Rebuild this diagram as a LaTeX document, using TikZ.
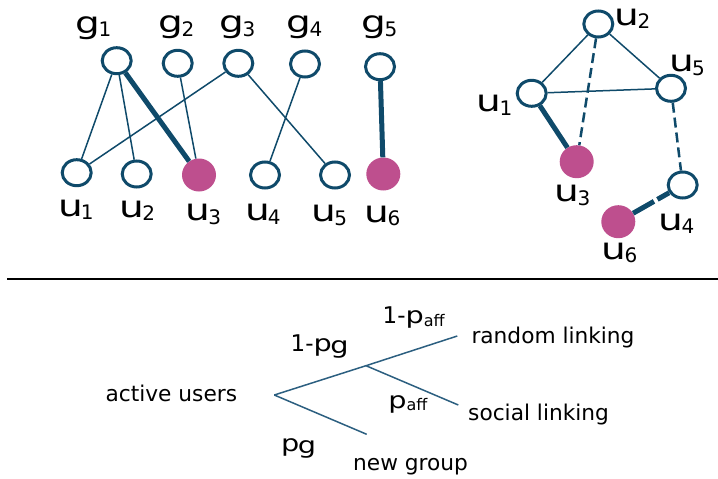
\documentclass[tikz,border=0pt]{standalone}
\usepackage{graphicx}
\usepackage{fontspec}
\setmainfont{DejaVu Sans}
\usetikzlibrary{shapes.geometric}
\definecolor{netblue}{HTML}{0F4A6A}
\definecolor{netmag}{HTML}{BE4F8E}
\definecolor{treeblue}{HTML}{2C5F80}
\newcommand\glab[2]{\scalebox{1.3}[1]{\fontsize{30}{30}\selectfont #1}\kern-2pt\raisebox{-3.5pt}{\fontsize{20}{20}\selectfont #2}}
\newcommand\pwide[1]{\scalebox{1.25}[1]{\fontsize{23}{23}\selectfont #1}}
\newcommand\pmain[1]{\fontsize{23}{23}\selectfont #1}
\begin{document}
\begin{tikzpicture}[x=1pt,y=-1pt,
  vnode/.style={ellipse, draw=netblue, line width=3pt, fill=white, minimum width=29pt, minimum height=26pt, inner sep=0pt},
  mnode/.style={ellipse, fill=netmag, minimum width=34pt, minimum height=33pt, inner sep=0pt},
  thinedge/.style={draw=netblue, line width=1.5pt},
  thickedge/.style={draw=netblue, line width=5pt},
  dashedge/.style={draw=netblue, line width=2.5pt, dash pattern=on 10pt off 5pt},
  thickdash/.style={draw=netblue, line width=5pt, dash pattern=on 24pt off 4pt},
  lab/.style={anchor=base, inner sep=0pt, text=black},
  tree/.style={draw=treeblue, line width=1.5pt},
  ttext/.style={anchor=base west, inner sep=0pt, font=\fontsize{21.7}{22}\selectfont}]
\useasboundingbox (0,0) rectangle (718,479);

% ---------- left bipartite graph ----------
\node[vnode] (g1) at (116.7,60.7) {};
\node[vnode] (g2) at (177.7,63.3) {};
\node[vnode] (g3) at (238.3,63.3) {};
\node[vnode] (g4) at (305,64) {};
\node[vnode] (g5) at (380,66.7) {};
\node[vnode] (a1) at (76.7,172.7) {};
\node[vnode] (a2) at (136.7,174) {};
\node[mnode] (a3) at (199,175) {};
\node[vnode] (a4) at (265,175) {};
\node[vnode] (a5) at (335,175) {};
\node[mnode] (a6) at (383.3,174) {};

\draw[thinedge] (g1) -- (a1);
\draw[thinedge] (g1) -- (a2);
\draw[thickedge] (g1) -- (a3);
\draw[thinedge] (g2) -- (a3);
\draw[thinedge] (g3) -- (a1);
\draw[thinedge] (g3) -- (a5);
\draw[thinedge] (g4) -- (a4);
\draw[thickedge] (g5) -- (a6);

\node[lab] (lg1) at (93.5,33) {\glab{g}{1}};
\node[lab] (lg2) at (176.5,32.5) {\glab{g}{2}};
\node[lab] (lg3) at (237.5,32.5) {\glab{g}{3}};
\node[lab] (lg4) at (304.5,32.5) {\glab{g}{4}};
\node[lab] (lg5) at (379.5,32.5) {\glab{g}{5}};
\node[lab] (la1) at (76,216) {\glab{u}{1}};
\node[lab] (la2) at (137.5,217) {\glab{u}{2}};
\node[lab] (la3) at (203.5,220.5) {\glab{u}{3}};
\node[lab] (la4) at (263,220.5) {\glab{u}{4}};
\node[lab] (la5) at (329.5,221.7) {\glab{u}{5}};
\node[lab] (la6) at (382.5,222) {\glab{u}{6}};

% ---------- right social graph ----------
\node[vnode] (b2) at (598.3,24) {};
\node[vnode] (b1) at (531.7,93.3) {};
\node[vnode] (b5) at (671,88.3) {};
\node[mnode] (b3) at (576.7,161.7) {};
\node[vnode] (b4) at (682.7,185) {};
\node[mnode] (b6) at (618.3,221.7) {};

\draw[thinedge] (b1) -- (b2);
\draw[thinedge] (b2) -- (b5);
\draw[thinedge] (b1) -- (b5);
\draw[dashedge] (b2) -- (b3);
\draw[thickedge] (b1) -- (b3);
\draw[dashedge] (b5) -- (b4);
\draw[thickdash] (b6) -- (b4);

\node[lab] (lb2) at (632.5,25) {\glab{u}{2}};
\node[lab] (lb5) at (687,71.7) {\glab{u}{5}};
\node[lab] (lb1) at (494.5,111.7) {\glab{u}{1}};
\node[lab] (lb3) at (572.5,201.7) {\glab{u}{3}};
\node[lab] (lb4) at (676.5,230) {\glab{u}{4}};
\node[lab] (lb6) at (619.5,259) {\glab{u}{6}};

% ---------- separator ----------
\coordinate (rl) at (7,279);
\coordinate (rr) at (718,279);
\draw[line width=2.7pt] (rl) -- (rr);

% ---------- decision tree ----------
\coordinate (root) at (274.3,395);
\coordinate (branch) at (366,365.7);
\coordinate (rnd) at (457.3,336);
\coordinate (soc) at (458.3,405);
\coordinate (ng) at (366.7,434.3);
\draw[tree] (root) -- (branch) -- (rnd);
\draw[tree] (branch) -- (soc);
\draw[tree] (root) -- (ng);

\node[ttext] (tau) at (105.4,401.7) {active users};
\node[ttext] (trl) at (471.3,343.3) {random linking};
\node[ttext] (tsl) at (468,420) {social linking};
\node[ttext] (tng) at (353,470) {new group};
\node[ttext] (tpg1) at (290.5,351.7) {\pmain{1-}\pwide{p}\kern-1.5pt\raisebox{-2pt}{\pwide{g}}};
\node[ttext] (tpg) at (281,451.7) {\pwide{p}\kern-1.5pt\raisebox{-2pt}{\pwide{g}}};
\node[ttext] (tpa1) at (382.5,323.3) {\pmain{1-}\pwide{p}\raisebox{-3pt}{\fontsize{16}{16}\selectfont aff}};
\node[ttext] (tpa) at (388.2,408.3) {\pwide{p}\raisebox{-2.5pt}{\fontsize{16}{16}\selectfont aff}};
\end{tikzpicture}
\end{document}
